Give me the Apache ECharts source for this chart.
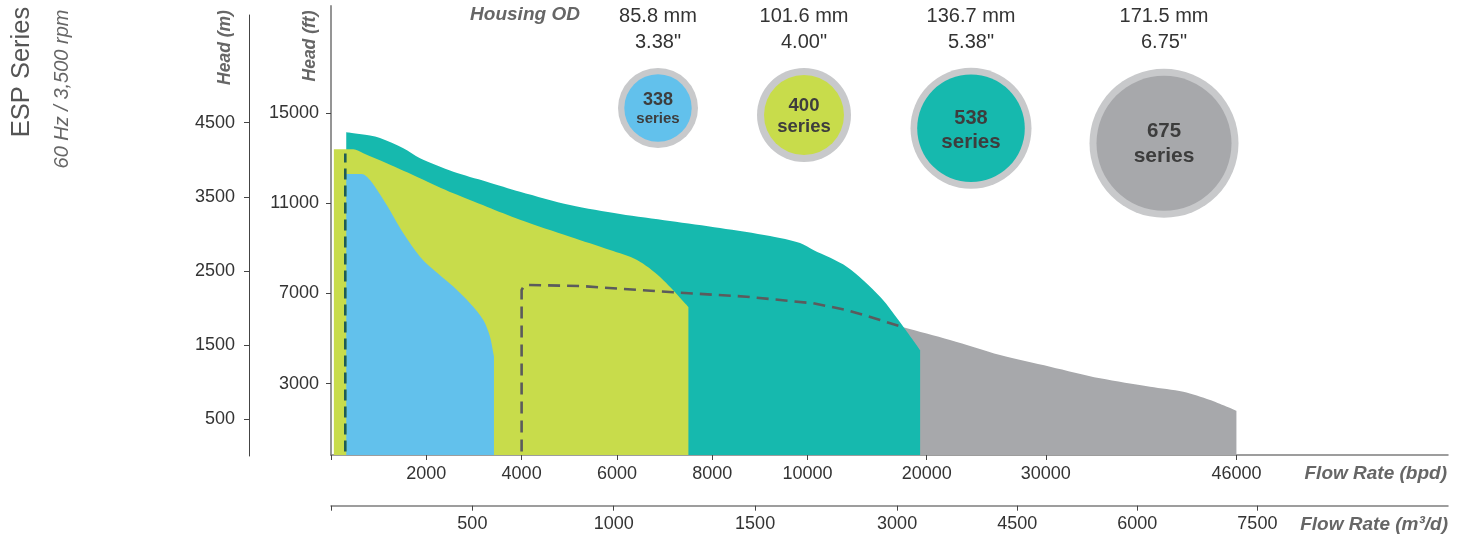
<!DOCTYPE html>
<html><head><meta charset="utf-8">
<script src="https://cdn.jsdelivr.net/npm/echarts@6/dist/echarts.min.js"></script>
<style>html,body{margin:0;padding:0;background:#fff}#c{width:1465px;height:537px}</style>
</head><body><div id="c"></div>
<script>
// ---------- data ----------
const bpdTicks = [2000, 4000, 6000, 8000, 10000, 20000, 30000, 46000];
const m3dTicks = [500, 1000, 1500, 3000, 4500, 6000, 7500];
const ftTicks = [3000, 7000, 11000, 15000];
const mTicks = [500, 1500, 2500, 3500, 4500];
// non-linear flow axes: [value, axis position unit]
const bpdKnots = [[0, 0], [10000, 5], [46000, 9.5]];
const m3dKnots = [[0, 0], [1500, 4.45], [3000, 5.94], [7500, 9.72]];

// envelopes: [flow rate bpd, head ft]
const s338 = [[320,12290],[644,12290],[819,12020],[1169,10915],[1518,9660],[1868,8625],[2078,8180],[2567,7300],[2917,6560],[3196,5820],[3337,5080],[3406,4345],[3420,4195]];
const s400 = [[60,13380],[468,13380],[678,13205],[1169,12760],[1868,12100],[2567,11430],[3268,10840],[3966,10265],[5016,9510],[5855,8920],[6422,8480],[6905,7725],[7500,6400]];
const s538 = [[320,14135],[819,13990],[1028,13880],[1518,13425],[1868,12985],[2567,12390],[3268,11950],[3966,11505],[5016,10915],[6065,10515],[7114,10205],[8164,9895],[9213,9540],[9843,9230],[10488,8920],[13288,8180],[16088,6850],[18040,5525],[19450,4490]];
const s675 = [[4000,7296],[4141,7371],[5225,7327],[7184,7048],[8724,6853],[10488,6560],[13288,6264],[16088,5821],[18040,5497],[21960,4935],[26160,4270],[30360,3752],[34552,3238],[38752,2866],[41544,2645],[43792,2277],[46000,1800]];
const minFlow338 = [[300, 0], [300, 13200]];
const minFlow675 = [[4000, 0], [4000, 7150], [4040, 7290]].concat(s675.slice(1, 9));

const seriesIds = ['338', '400', '538', '675'];
const odMm = ['85.8 mm', '101.6 mm', '136.7 mm', '171.5 mm'];
const odIn = ['3.38"', '4.00"', '5.38"', '6.75"'];

// ---------- styles / layout ----------
const COL = { '338': '#62c1ec', '400': '#c8dc4b', '538': '#16b9ae', '675': '#a7a8ab' };
const RING = '#c8c9cb';
const FONT = '"Liberation Sans",Arial,sans-serif';
const badge = {
  '338': { cx: 658, cy: 108, r: 40, ri: 33.7, n: [100.5, 18], s: [118.7, 15] },
  '400': { cx: 804, cy: 115, r: 47, ri: 40, n: [106.4, 18.5], s: [126.8, 18.5] },
  '538': { cx: 971, cy: 128.3, r: 60.5, ri: 53.8, n: [118, 20], s: [142, 20.5] },
  '675': { cx: 1164, cy: 143.3, r: 74.5, ri: 67.5, n: [131.8, 20.5], s: [156, 21] }
};

function interp(knots, v) {
  for (let i = 1; i < knots.length; i++) {
    const [a0, b0] = knots[i - 1], [a1, b1] = knots[i];
    if (v <= a1 || i === knots.length - 1) return b0 + (v - a0) * (b1 - b0) / (a1 - a0);
  }
}
const U = v => interp(bpdKnots, v);
const UM = v => interp(m3dKnots, v);
const toXY = arr => arr.map(([q, h]) => [U(q), h]);
const X_MAX = 11.72;
const labelFor = (v, ticks, f) => { const t = ticks.find(t => Math.abs(f(t) - v) < 1e-6); return t === undefined ? '' : String(t); };

const chart = echarts.init(document.getElementById('c'), null, { renderer: 'canvas' });

const areaSeries = (id, data) => ({
  type: 'line', name: id + ' series', data: toXY(data), xAxisIndex: 0, yAxisIndex: 0,
  smooth: 0.3, showSymbol: false, symbol: 'none',
  lineStyle: { width: 0 }, areaStyle: { color: COL[id], opacity: 1, origin: 'start' }, silent: true
});
const dashSeries = (data, color, dash) => ({
  type: 'line', data: toXY(data), xAxisIndex: 0, yAxisIndex: 0, smooth: false,
  showSymbol: false, symbol: 'none', silent: true,
  lineStyle: { color, width: 2.6, type: dash, cap: 'butt' }
});

const tickLbl = { fontFamily: FONT, fontSize: 18, color: '#333', formatter: v => String(v) };
const graphics = [];
const txt = (text, x, y, font, extra) => graphics.push(Object.assign({
  type: 'text', x, y, style: Object.assign({ text, align: 'center', verticalAlign: 'middle' }, font)
}, extra || {}));

txt('ESP Series', 22, 72, { fontFamily: FONT, fontSize: 25.5, fill: '#555' }, { rotation: Math.PI / 2 });
txt('60 Hz / 3,500 rpm', 62, 89, { fontFamily: FONT, fontSize: 20, fontStyle: 'italic', fill: '#666' }, { rotation: Math.PI / 2 });
txt('Head (m)', 225, 47.5, { fontFamily: FONT, fontSize: 17.5, fontStyle: 'italic', fontWeight: 'bold', fill: '#666' }, { rotation: Math.PI / 2 });
txt('Head (ft)', 310, 46, { fontFamily: FONT, fontSize: 17.5, fontStyle: 'italic', fontWeight: 'bold', fill: '#666' }, { rotation: Math.PI / 2 });
txt('Housing OD', 525, 15, { fontFamily: FONT, fontSize: 19, fontStyle: 'italic', fontWeight: 'bold', fill: '#666' });
graphics.push({ type: 'text', x: 1447, y: 474, style: { text: 'Flow Rate (bpd)', align: 'right', verticalAlign: 'middle', fontFamily: FONT, fontSize: 19, fontStyle: 'italic', fontWeight: 'bold', fill: '#666' } });
graphics.push({ type: 'text', x: 1448, y: 525, style: { text: 'Flow Rate (m³/d)', align: 'right', verticalAlign: 'middle', fontFamily: FONT, fontSize: 19, fontStyle: 'italic', fontWeight: 'bold', fill: '#666' } });

seriesIds.forEach((id, i) => {
  const b = badge[id];
  txt(odMm[i], b.cx, 16, { fontFamily: FONT, fontSize: 20, fill: '#333' });
  txt(odIn[i], b.cx, 42, { fontFamily: FONT, fontSize: 20, fill: '#333' });
  graphics.push({ type: 'circle', shape: { cx: b.cx, cy: b.cy, r: b.r }, style: { fill: RING } });
  graphics.push({ type: 'circle', shape: { cx: b.cx, cy: b.cy, r: b.ri }, style: { fill: COL[id] } });
  txt(id, b.cx, b.n[0], { fontFamily: FONT, fontSize: b.n[1], fontWeight: 'bold', fill: '#3d3d3d' });
  txt('series', b.cx, b.s[0], { fontFamily: FONT, fontSize: b.s[1], fontWeight: 'bold', fill: '#3d3d3d' });
});

chart.setOption({
  animation: false,
  grid: [
    { left: 331, right: 17, top: 6, bottom: 82 },
    { left: 249, width: 20, top: 15, bottom: 81 }
  ],
  xAxis: [
    {
      type: 'value', gridIndex: 0, min: 0, max: X_MAX, position: 'bottom',
      axisLine: { show: true, onZero: false, lineStyle: { color: '#7d7d7d', width: 1.5 } },
      axisTick: { show: true, customValues: [0].concat(bpdTicks.map(U)), length: 5, lineStyle: { color: '#444' } },
      axisLabel: Object.assign({}, tickLbl, { customValues: bpdTicks.map(U), margin: 10, formatter: v => labelFor(v, bpdTicks, U) }),
      splitLine: { show: false }
    },
    {
      type: 'value', gridIndex: 0, min: 0, max: X_MAX, position: 'bottom', offset: 50.7,
      axisLine: { show: true, onZero: false, lineStyle: { color: '#7d7d7d', width: 1.5 } },
      axisTick: { show: true, customValues: [0].concat(m3dTicks.map(UM)), length: 5, lineStyle: { color: '#444' } },
      axisLabel: Object.assign({}, tickLbl, { customValues: m3dTicks.map(UM), margin: 9, formatter: v => labelFor(v, m3dTicks, UM) }),
      splitLine: { show: false }
    },
    { type: 'value', gridIndex: 1, show: false, min: 0, max: 1 }
  ],
  yAxis: [
    {
      type: 'value', gridIndex: 0, min: -159, max: 19730, position: 'left',
      axisLine: { show: true, onZero: false, lineStyle: { color: '#8a8a8a', width: 1.8 } },
      axisTick: { show: true, customValues: ftTicks, length: 5, lineStyle: { color: '#444' } },
      axisLabel: Object.assign({}, tickLbl, { customValues: ftTicks, margin: 12 }),
      splitLine: { show: false }
    },
    {
      type: 'value', gridIndex: 1, min: 0, max: 5954, position: 'left',
      axisLine: { show: true, onZero: false, lineStyle: { color: '#444', width: 1 } },
      axisTick: { show: true, customValues: mTicks, length: 5, lineStyle: { color: '#444' } },
      axisLabel: Object.assign({}, tickLbl, { customValues: mTicks, margin: 14 }),
      splitLine: { show: false }
    }
  ],
  series: [
    areaSeries('675', s675),
    areaSeries('538', s538),
    areaSeries('400', s400),
    areaSeries('338', s338),
    dashSeries(minFlow338, '#1f5c55', [11, 6]),
    dashSeries(minFlow675, '#5b5b5d', [12, 7])
  ],
  graphic: graphics
});
</script>
</body></html>
